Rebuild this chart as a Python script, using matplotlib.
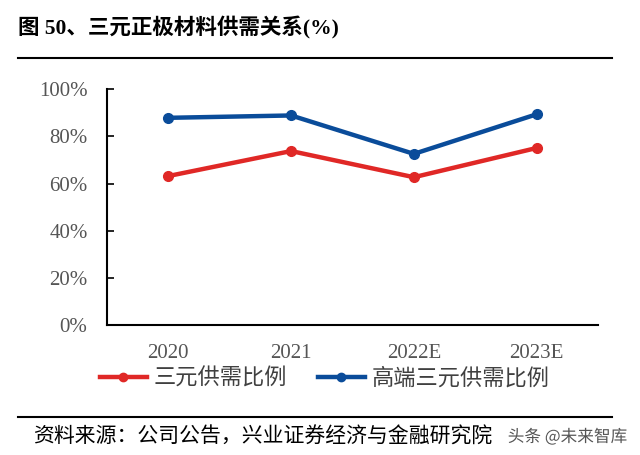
import matplotlib
matplotlib.use("Agg")
import matplotlib.pyplot as plt
from matplotlib.lines import Line2D
import matplotlib.patheffects as pe

categories = ["2020", "2021", "2022E", "2023E"]
ternary = [63.2, 73.8, 62.7, 75.1]
high_end = [87.9, 88.9, 72.6, 89.4]
yticks = [0, 20, 40, 60, 80, 100]
ytick_labels = ["0%", "20%", "40%", "60%", "80%", "100%"]
series_names = ["三元供需比例", "高端三元供需比例"]

RED = "#E02826"
BLUE = "#0A4C9A"
CJK = ["Noto Sans CJK SC", "DejaVu Sans"]
SERIF = ["Liberation Serif", "DejaVu Serif"]
MIXED = ["Liberation Serif", "Noto Sans CJK SC", "DejaVu Sans"]

fig = plt.figure(figsize=(6.4, 4.55), dpi=100)
ax = fig.add_axes([107/640, 1-325/455, (598-107)/640, (325-89.3)/455])

x = list(range(len(categories)))
ax.plot(x, ternary, color=RED, lw=3.2, marker="o", ms=7, solid_capstyle="round")
ax.plot(x, high_end, color=BLUE, lw=3.2, marker="o", ms=7, solid_capstyle="round")

ax.set_xlim(-0.5, 3.5)
ax.set_ylim(0, 100)
ax.set_yticks(yticks)
ax.set_yticklabels(ytick_labels, family=SERIF, fontsize=15, color="#555555")
ax.set_xticks(x)
ax.set_xticklabels(categories, family=SERIF, fontsize=15, color="#555555")
ax.tick_params(axis="y", direction="in", length=5, width=1.2, pad=14)
ax.tick_params(axis="x", length=0, pad=14)
for s in ["top", "right"]:
    ax.spines[s].set_visible(False)
for s in ["left", "bottom"]:
    ax.spines[s].set_linewidth(1.5)
    ax.spines[s].set_color("black")

handles = [Line2D([0], [0], color=RED, lw=3.2, marker="o", ms=6),
           Line2D([0], [0], color=BLUE, lw=3.2, marker="o", ms=6)]
leg = fig.legend(handles, series_names, loc="center left", bbox_to_anchor=(100/640, 1-378/455),
                 ncol=2, frameon=False, handlelength=2.1, columnspacing=1.4,
                 handletextpad=0.3, borderaxespad=0, borderpad=0,
                 prop={"family": CJK, "size": 16})
for t in leg.get_texts():
    t.set_color("#404040")

fig.text(18/640, 1-28/455, "图 50、三元正极材料供需关系(%)", family=MIXED, fontsize=15.5,
         fontweight="bold", va="center", ha="left", color="black")
fig.add_artist(Line2D([18/640, 612/640], [1-58/455, 1-58/455], color="black", lw=1.5))
fig.add_artist(Line2D([18/640, 612/640], [1-417/455, 1-417/455], color="black", lw=1.5))
fig.text(33/640, 1-437/455, "资料来源：公司公告，兴业证券经济与金融研究院", family=CJK,
         fontsize=15, va="center", ha="left", color="black")
fig.text(627/640, 1-437/455, "头条 @未来智库", family=CJK, fontsize=12, va="center",
         ha="right", color="#555555",
         path_effects=[pe.withStroke(linewidth=3, foreground="white")])

fig.savefig("out.png", dpi=100)
